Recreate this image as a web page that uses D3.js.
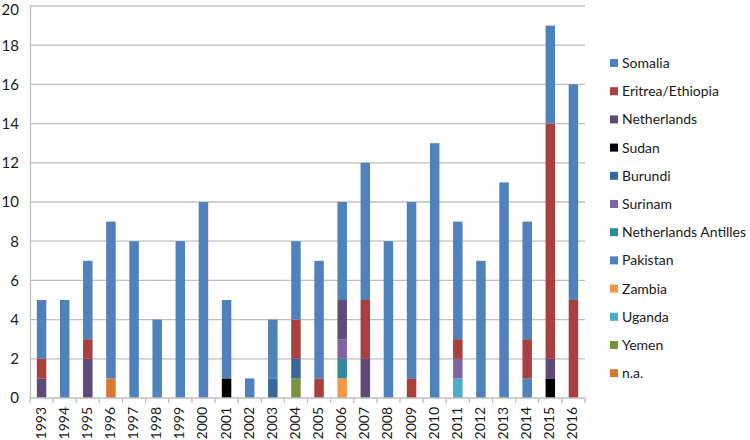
<!DOCTYPE html>
<html>
<head>
<meta charset="utf-8">
<script src="https://cdn.jsdelivr.net/npm/d3@7"></script>
<style>
  body { margin: 0; background: #fff; }
  text { font-family: Lato, "Open Sans", sans-serif; fill: #1a1a1a; }
</style>
</head>
<body>
<svg></svg>
<script>
// years on the x axis
const years = ["1993","1994","1995","1996","1997","1998","1999","2000","2001","2002","2003","2004",
               "2005","2006","2007","2008","2009","2010","2011","2012","2013","2014","2015","2016"];

// counts per country, one value per year
const somalia      = [3,5,4,8,8,4,8,10,4,1,3,4,6,5,7,8,9,13,6,7,11,6,5,11];
const eritrea      = [1,0,1,0,0,0,0,0,0,0,0,2,1,0,3,0,1,0,1,0,0,2,12,5];
const netherlands  = [1,0,2,0,0,0,0,0,0,0,0,0,0,2,2,0,0,0,0,0,0,0,1,0];
const sudan        = [0,0,0,0,0,0,0,0,1,0,0,0,0,0,0,0,0,0,0,0,0,0,1,0];
const burundi      = [0,0,0,0,0,0,0,0,0,0,1,1,0,0,0,0,0,0,0,0,0,0,0,0];
const surinam      = [0,0,0,0,0,0,0,0,0,0,0,0,0,1,0,0,0,0,1,0,0,0,0,0];
const antilles     = [0,0,0,0,0,0,0,0,0,0,0,0,0,1,0,0,0,0,0,0,0,0,0,0];
const pakistan     = [0,0,0,0,0,0,0,0,0,0,0,0,0,0,0,0,0,0,0,0,0,1,0,0];
const zambia       = [0,0,0,0,0,0,0,0,0,0,0,0,0,1,0,0,0,0,0,0,0,0,0,0];
const uganda       = [0,0,0,0,0,0,0,0,0,0,0,0,0,0,0,0,0,0,1,0,0,0,0,0];
const yemen        = [0,0,0,0,0,0,0,0,0,0,0,1,0,0,0,0,0,0,0,0,0,0,0,0];
const na           = [0,0,0,1,0,0,0,0,0,0,0,0,0,0,0,0,0,0,0,0,0,0,0,0];

// legend order (top series first), stacks are drawn bottom-up in reverse
const seriesNames  = ["Somalia","Eritrea/Ethiopia","Netherlands","Sudan","Burundi","Surinam",
                      "Netherlands Antilles","Pakistan","Zambia","Uganda","Yemen","n.a."];
const seriesValues = [somalia, eritrea, netherlands, sudan, burundi, surinam,
                      antilles, pakistan, zambia, uganda, yemen, na];
const seriesColors = ["#4f81bd","#a8403e","#604a7b","#000000","#38679c","#8064a2",
                      "#31899e","#4f81bd","#f79646","#4bacc6","#77933c","#d9782f"];

const yTicks = [0,2,4,6,8,10,12,14,16,18,20];

let width = 750;
let height = 440;
let plotLeft = 30, plotRight = 585, plotTop = 6, plotBottom = 398;

const svg = d3.select('svg').attr('width', width).attr('height', height);

const xScale = d3.scaleBand().domain(years).range([plotLeft, plotRight]).paddingInner(0.59).paddingOuter(0.295);
const yScale = d3.scaleLinear().domain([0, 20]).range([plotBottom, plotTop]);

// build table for the stack
const table = years.map((y, i) => {
    let row = {year: y};
    seriesNames.forEach((n, j) => row[n] = seriesValues[j][i]);
    return row;
});
const stackOrder = seriesNames.slice().reverse();
const stacked = d3.stack().keys(stackOrder)(table);

// gridlines
svg.append('g').selectAll('line').data(yTicks.filter(t => t > 0)).enter().append('line')
    .attr('x1', plotLeft).attr('x2', plotRight)
    .attr('y1', d => yScale(d)).attr('y2', d => yScale(d))
    .attr('stroke', '#bfbfbf').attr('stroke-width', 1.3);

// bars
svg.append('g').selectAll('g').data(stacked).enter().append('g')
    .attr('fill', d => seriesColors[seriesNames.indexOf(d.key)])
    .selectAll('rect').data(d => d.filter(s => s[1] > s[0])).enter().append('rect')
    .attr('x', d => xScale(d.data.year))
    .attr('width', xScale.bandwidth())
    .attr('y', d => yScale(d[1]))
    .attr('height', d => yScale(d[0]) - yScale(d[1]));

// y axis
const yAxis = d3.axisLeft(yScale).tickValues(yTicks).tickSize(0).tickPadding(11);
const gy = svg.append('g').attr('transform', 'translate(' + plotLeft + ',0)').call(yAxis);
gy.select('.domain').attr('stroke', '#bfbfbf').attr('stroke-width', 1.3);
gy.selectAll('text').style('font-size', '15px').attr('fill', '#1a1a1a')
    .attr('dy', d => d === 20 ? '0.55em' : '0.32em');

// x axis, ticks sit between categories
const gx = svg.append('g').attr('transform', 'translate(0,' + plotBottom + ')');
gx.append('line').attr('x1', plotLeft).attr('x2', plotRight).attr('stroke', '#bfbfbf').attr('stroke-width', 1.3);
const step = xScale.step();
gx.selectAll('.tick').data(d3.range(years.length + 1)).enter().append('line')
    .attr('x1', d => plotLeft + d * step).attr('x2', d => plotLeft + d * step)
    .attr('y1', 0).attr('y2', 5).attr('stroke', '#bfbfbf').attr('stroke-width', 1.3);
gx.selectAll('text').data(years).enter().append('text')
    .attr('transform', d => 'translate(' + (xScale(d) + xScale.bandwidth() / 2 + 4) + ',9) rotate(-90)')
    .attr('text-anchor', 'end')
    .style('font-size', '14px')
    .text(d => d);

// legend
const legend = svg.append('g').selectAll('g').data(seriesNames).enter().append('g')
    .attr('transform', (d, i) => 'translate(610,' + (63 + i * 28.2) + ')');
legend.append('rect').attr('x', 0).attr('y', -4).attr('width', 8).attr('height', 8)
    .attr('fill', (d, i) => seriesColors[i]);
legend.append('text').attr('x', 12).attr('y', 0).attr('dy', '0.35em')
    .style('font-size', '14px').text(d => d);
</script>
</body>
</html>
